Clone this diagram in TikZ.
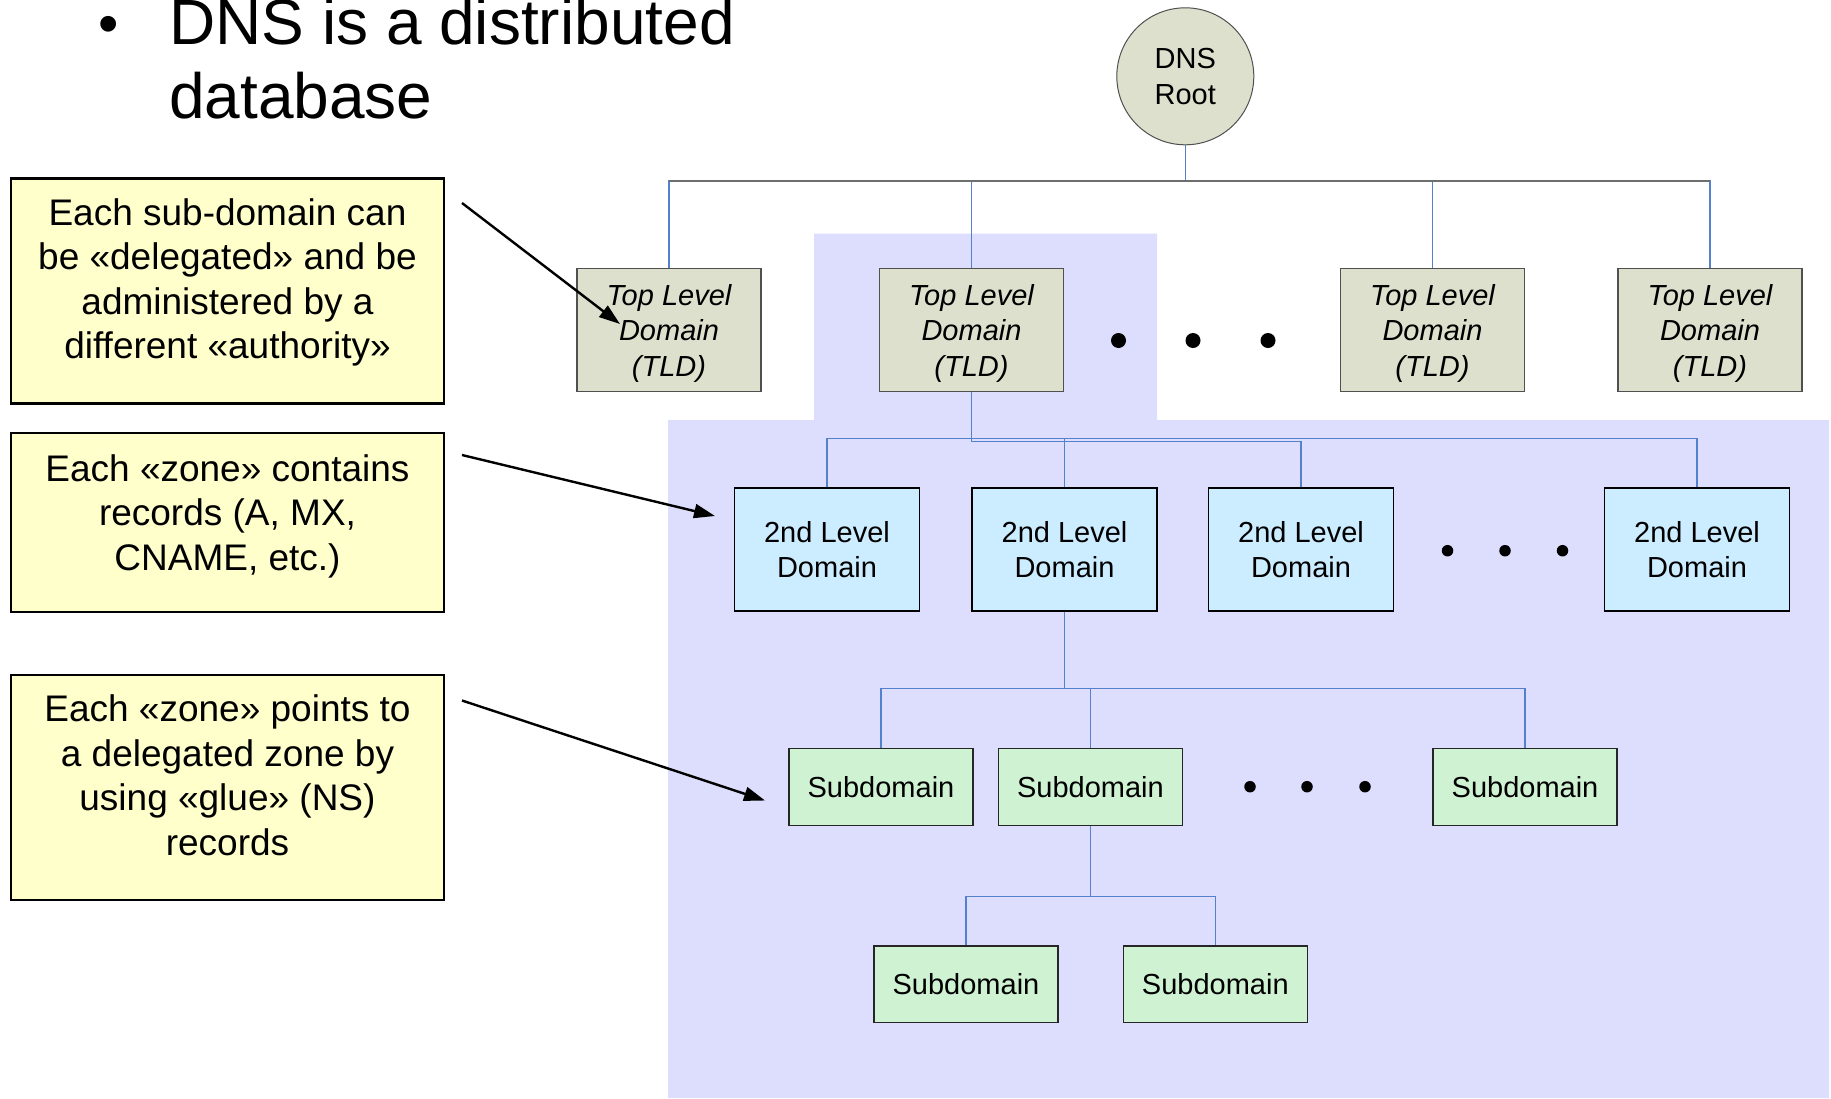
\documentclass[tikz,border=0pt]{standalone}
\usepackage{fontspec}
\setmainfont{Liberation Sans}
\usetikzlibrary{arrows.meta}

\definecolor{zonebg}{RGB}{221,221,253}
\definecolor{notefill}{RGB}{255,255,204}
\definecolor{tldfill}{RGB}{221,224,204}
\definecolor{sldfill}{RGB}{204,236,255}
\definecolor{subfill}{RGB}{206,242,210}
\definecolor{connblue}{RGB}{84,128,204}
\definecolor{busgrey}{RGB}{110,110,110}
\definecolor{boxgrey}{RGB}{80,80,80}

\tikzset{
  boxfont/.style={font=\fontsize{29}{35.5}\selectfont},
  rootnode/.style={circle, draw=boxgrey, line width=1pt, fill=tldfill,
    minimum size=137pt, inner sep=0pt, align=center, boxfont},
  tldbox/.style={rectangle, draw=boxgrey, line width=1.6pt, fill=tldfill,
    minimum width=184pt, minimum height=123pt, inner sep=0pt, align=center,
    text depth=0pt, font=\fontsize{29}{35.5}\selectfont\itshape},
  sldbox/.style={rectangle, draw=black, line width=1.4pt, fill=sldfill,
    minimum width=185pt, minimum height=123pt, inner sep=0pt, align=center, boxfont},
  subbox/.style={rectangle, draw=black!85, line width=1.4pt, fill=subfill,
    minimum width=184pt, minimum height=76.5pt, inner sep=0pt, align=center, boxfont},
  notebox/.style={rectangle, draw=black, line width=2.6pt, fill=notefill,
    minimum width=433pt, inner sep=0pt},
  notetext/.style={inner sep=0pt, align=center, font=\fontsize{37}{44.5}\selectfont},
  titletext/.style={inner sep=0pt, font=\fontsize{64}{74.5}\selectfont},
  dotbig/.style={circle, fill=black, minimum size=15pt, inner sep=0pt},
  dotsmall/.style={circle, fill=black, minimum size=11.5pt, inner sep=0pt},
  conn/.style={draw=connblue, line width=1.3pt},
  busline/.style={draw=busgrey, line width=1.6pt},
  pointer/.style={draw=black, line width=2.4pt, -{Triangle[length=21pt,width=14pt]}},
}

\begin{document}
\begin{tikzpicture}[x=1pt, y=-1pt]
\useasboundingbox (0,0) rectangle (1831,1098);

% shaded zone behind the delegated part of the tree
\fill[zonebg] (814,233.5) -- (1157,233.5) -- (1157,420) -- (1829,420)
  -- (1829,1098) -- (668,1098) -- (668,420) -- (814,420) -- cycle;

% heading
\node[titletext, anchor=base, font=\fontsize{58}{60}\selectfont] (bullet) at (109,43) {•};
\node[titletext, anchor=base west] (title1) at (169,44) {DNS is a distributed};
\node[titletext, anchor=base west] (title2) at (169,118.5) {database};

% explanatory notes (base anchor sits on the last line)
\node[notebox, minimum height=225pt] (note1) at (227.5,291) {};
\node[notetext, anchor=base] (note1t) at (227.5,358.5)
  {Each sub-domain can\\be «delegated» and be\\administered by a\\different «authority»};
\node[notebox, minimum height=179pt] (note2) at (227.5,522.5) {};
\node[notetext, anchor=base] (note2t) at (227.5,570)
  {Each «zone» contains\\records (A, MX,\\CNAME, etc.)};
\node[notebox, minimum height=225pt] (note3) at (227.5,787.5) {};
\node[notetext, anchor=base] (note3t) at (227.5,855)
  {Each «zone» points to\\a delegated zone by\\using «glue» (NS)\\records};

% the tree
\node[rootnode] (root) at (1185.3,76.3) {DNS\\Root};

\node[tldbox] (tld1) at (669,330) {Top Level\\Domain\\(TLD)};
\node[tldbox] (tld2) at (971.5,330) {Top Level\\Domain\\(TLD)};
\node[tldbox] (tld3) at (1432.5,330) {Top Level\\Domain\\(TLD)};
\node[tldbox] (tld4) at (1710,330) {Top Level\\Domain\\(TLD)};

\node[sldbox] (sld1) at (827,549.5) {2nd Level\\Domain};
\node[sldbox] (sld2) at (1064.5,549.5) {2nd Level\\Domain};
\node[sldbox] (sld3) at (1301,549.5) {2nd Level\\Domain};
\node[sldbox] (sld4) at (1697,549.5) {2nd Level\\Domain};

\node[subbox] (sub1) at (881,787) {Subdomain};
\node[subbox] (sub2) at (1090.4,787) {Subdomain};
\node[subbox] (sub3) at (1525,787) {Subdomain};
\node[subbox] (sub4) at (966,984.4) {Subdomain};
\node[subbox] (sub5) at (1215.3,984.4) {Subdomain};

% ellipsis dots
\node[dotbig] (tdot1) at (1118.5,340.5) {};
\node[dotbig] (tdot2) at (1193,340.5) {};
\node[dotbig] (tdot3) at (1268,340.5) {};
\node[dotsmall] (sdot1) at (1447.5,550.7) {};
\node[dotsmall] (sdot2) at (1505,550.7) {};
\node[dotsmall] (sdot3) at (1562.5,550.7) {};
\node[dotsmall] (udot1) at (1250,786.7) {};
\node[dotsmall] (udot2) at (1307,786.7) {};
\node[dotsmall] (udot3) at (1365,786.7) {};

% bend levels of the elbow connectors
\coordinate (bus0) at (0,181);
\coordinate (bus1a) at (0,438.7);
\coordinate (bus1b) at (0,441.5);
\coordinate (bus2) at (0,688.3);
\coordinate (bus3) at (0,896.7);

% root to top level domains
\foreach \t in {tld1,tld2,tld3,tld4}
  \draw[conn] (root.south) -- (root.south |- bus0) -| (\t.north);
\draw[busline] (bus0 -| tld1.north) -- (bus0 -| tld4.north);

% top level domain to second level domains
\foreach \s in {sld1,sld2,sld4}
  \draw[conn] (tld2.south) -- (tld2.south |- bus1a) -| (\s.north);
\draw[conn] (tld2.south) -- (tld2.south |- bus1b) -| (sld3.north);

% second level domain to subdomains
\foreach \s in {sub1,sub2,sub3}
  \draw[conn] (sld2.south) -- (sld2.south |- bus2) -| (\s.north);

% subdomain to its own subdomains
\foreach \s in {sub4,sub5}
  \draw[conn] (sub2.south) -- (sub2.south |- bus3) -| (\s.north);

% note pointers
\coordinate (p1s) at (462,203);
\coordinate (p1e) at (620,324);
\coordinate (p2s) at (462,455);
\coordinate (p2e) at (715,516);
\coordinate (p3s) at (462,700.5);
\coordinate (p3e) at (765,800.5);
\draw[pointer] (p1s) -- (p1e);
\draw[pointer] (p2s) -- (p2e);
\draw[pointer] (p3s) -- (p3e);
\end{tikzpicture}
\end{document}
